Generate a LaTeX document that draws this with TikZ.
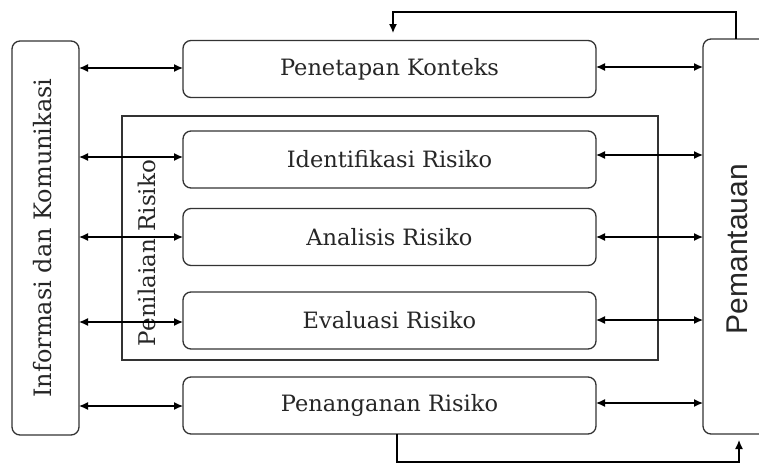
\documentclass[tikz,border=0pt]{standalone}
\usepackage{fontspec}
\setmainfont{DejaVu Serif}
\newfontfamily\sansfam{Liberation Sans}
\usetikzlibrary{arrows.meta}
\begin{document}
\begin{tikzpicture}[x=1pt,y=-1pt,
  line width=1.3pt,
  every node/.style={inner sep=0pt,outer sep=0pt,text=black!85},
  procbox/.style={draw=black!80,rounded corners=8pt,minimum width=413pt,minimum height=57pt,font=\fontsize{22.5}{22.5}\selectfont},
  sidebox/.style={draw=black!80,rounded corners=8pt},
  link/.style={black,line width=1.3pt,{Latex[length=9pt,width=8pt]}-{Latex[length=9pt,width=8pt]}},
  back/.style={black,line width=1.3pt,-{Latex[length=9pt,width=8pt]}}]
\useasboundingbox (0,0) rectangle (759,463);

% side columns
\node[sidebox,minimum width=67pt,minimum height=394pt] (info) at (45.5,238) {};
\node[rotate=90,font=\fontsize{24}{24}\selectfont] (infot) at (43,238) {Informasi dan Komunikasi};
\node[sidebox,minimum width=80pt,minimum height=395pt] (pem) at (743,236.5) {};
\node[rotate=90,font=\sansfam\fontsize{30}{30}\selectfont] (pemt) at (737,249) {Pemantauan};

% risk assessment frame
\node[draw=black!80,minimum width=536pt,minimum height=244pt] (nilai) at (390,238) {};
\node[rotate=90,font=\fontsize{23}{23}\selectfont] (nilait) at (147,253) {Penilaian Risiko};

% process steps
\node[procbox] (konteks) at (389.5,69) {Penetapan Konteks};
\node[procbox] (ident) at (389.5,159.5) {Identifikasi Risiko};
\node[procbox] (anal) at (389.5,237) {Analisis Risiko};
\node[procbox] (eval) at (389.5,320.5) {Evaluasi Risiko};
\node[procbox] (tangan) at (389.5,405.5) {Penanganan Risiko};

% two-way links to the side columns
\foreach \b/\yl/\yr in {konteks/68/67, ident/157/155, anal/237/237, eval/322/320, tangan/406/403} {
  \draw[link] (info.east |- 0,\yl) -- (\b.west |- 0,\yl);
  \draw[link] (\b.east |- 0,\yr) -- (pem.west |- 0,\yr);
}

% feedback loops
\coordinate (topend) at (393,33);
\coordinate (botend) at (739,440);
\draw[back] (pem.north -| 736,0) -- (736,12) -- (393,12) -- (topend);
\draw[back] (tangan.south -| 397,0) -- (397,462) -- (739,462) -- (botend);
\end{tikzpicture}
\end{document}
